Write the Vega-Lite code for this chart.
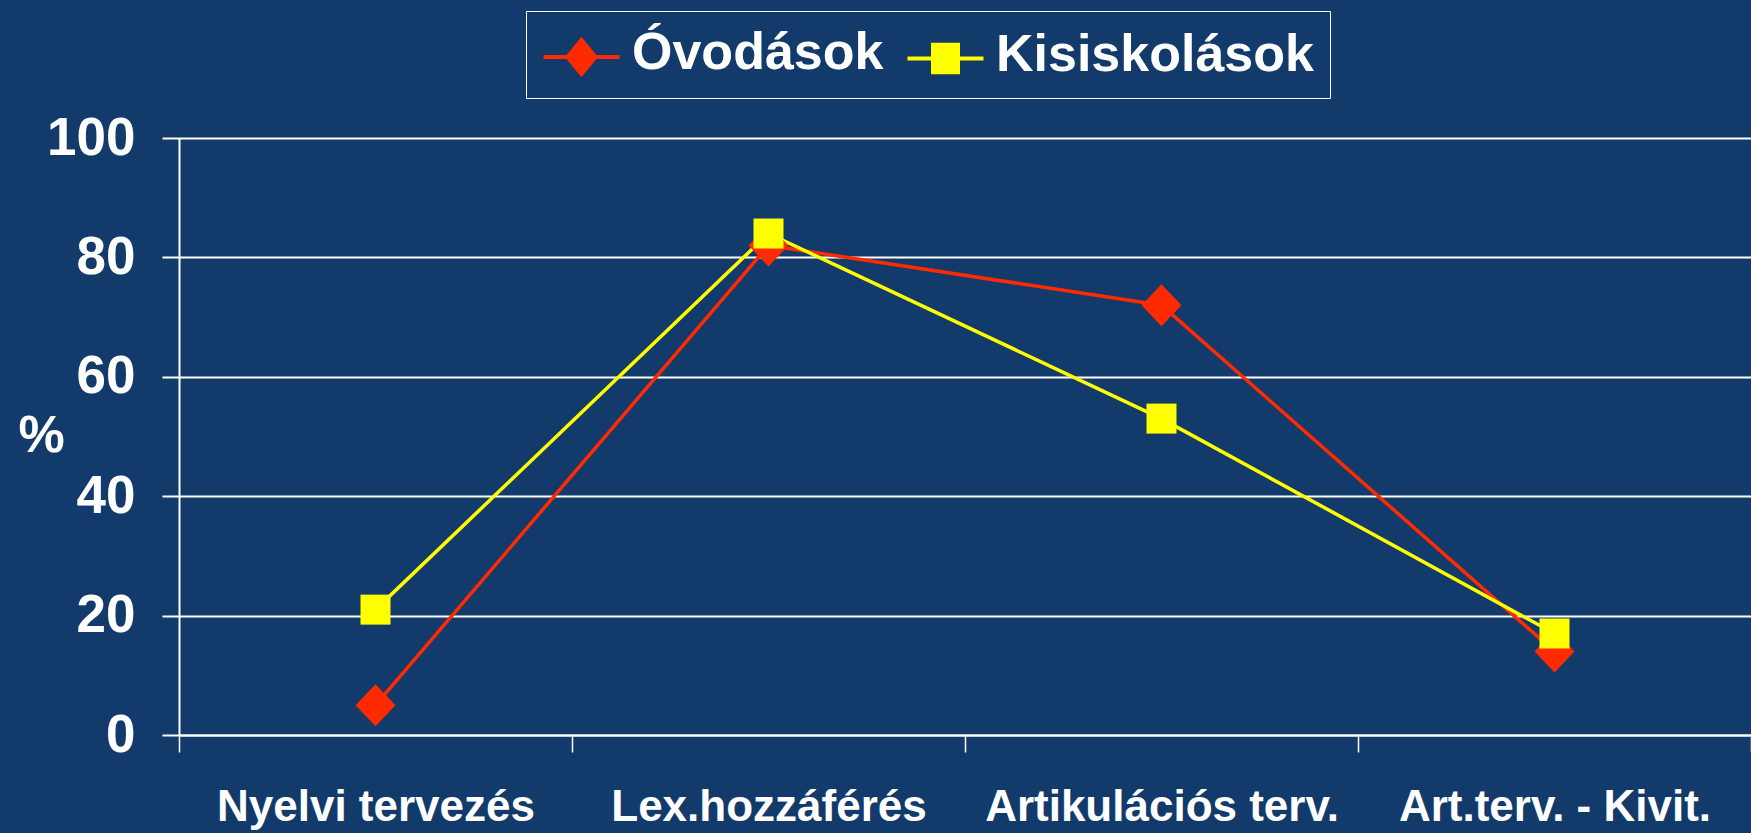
{
  "$schema": "https://vega.github.io/schema/vega-lite/v6.json",
  "width": 1572,
  "height": 597,
  "autosize": {"type": "none"},
  "padding": {"left": 179, "top": 138, "right": 0, "bottom": 98},
  "background": "#123A6A",
  "config": {"view": {"stroke": null}},
  "data": {
    "values": [
      {"stage": "Nyelvi tervezés", "group": "Óvodások", "value": 5},
      {"stage": "Lex.hozzáférés", "group": "Óvodások", "value": 82},
      {"stage": "Artikulációs terv.", "group": "Óvodások", "value": 72},
      {"stage": "Art.terv. - Kivit.", "group": "Óvodások", "value": 14},
      {"stage": "Nyelvi tervezés", "group": "Kisiskolások", "value": 21},
      {"stage": "Lex.hozzáférés", "group": "Kisiskolások", "value": 84},
      {"stage": "Artikulációs terv.", "group": "Kisiskolások", "value": 53},
      {"stage": "Art.terv. - Kivit.", "group": "Kisiskolások", "value": 17}
    ]
  },
  "encoding": {
    "x": {
      "field": "stage",
      "type": "nominal",
      "sort": ["Nyelvi tervezés", "Lex.hozzáférés", "Artikulációs terv.", "Art.terv. - Kivit."],
      "scale": {"paddingInner": 0, "paddingOuter": 0},
      "axis": {
        "title": null,
        "labelAngle": 0,
        "tickBand": "extent",
        "tickColor": "white",
        "tickWidth": 1.5,
        "tickSize": 17,
        "domainColor": "white",
        "domainWidth": 2,
        "grid": false,
        "labelFont": "Liberation Sans",
        "labelFontSize": 44,
        "labelFontWeight": "bold",
        "labelColor": "white",
        "labelPadding": 33,
        "labelLimit": 600
      }
    },
    "y": {
      "field": "value",
      "type": "quantitative",
      "scale": {"domain": [0, 100], "nice": false},
      "axis": {
        "values": [0, 20, 40, 60, 80, 100],
        "grid": true,
        "gridColor": "white",
        "gridWidth": 2,
        "gridOpacity": 1,
        "domainColor": "white",
        "domainWidth": 2,
        "tickColor": "white",
        "tickWidth": 2,
        "tickSize": 17,
        "labelPadding": 27,
        "labelFont": "Liberation Sans",
        "labelFontSize": 53,
        "labelFontWeight": "bold",
        "labelColor": "white",
        "title": "%",
        "titleAngle": 0,
        "titleX": -138,
        "titleY": 297,
        "titleAlign": "center",
        "titleBaseline": "middle",
        "titleFont": "Liberation Sans",
        "titleFontSize": 52,
        "titleFontWeight": "bold",
        "titleColor": "white"
      }
    },
    "color": {
      "field": "group",
      "type": "nominal",
      "scale": {"domain": ["Óvodások", "Kisiskolások"], "range": ["#FF2A00", "#FFFF00"]},
      "legend": {
        "title": null,
        "orient": "none",
        "direction": "horizontal",
        "legendX": 347,
        "legendY": -127,
        "padding": 16,
        "strokeColor": "white",
        "columnPadding": 15,
        "symbolSize": 100,
        "symbolStrokeWidth": 4,
        "symbolOpacity": 1,
        "symbolType": {"expr": "datum.value === 'Óvodások' ? 'M-4.9,0.8H10.3M2.7,-2.6L5.5,0.8L2.7,4.2L-0.1,0.8Z' : 'M-4.9,0.8H10.3M0.2,-1.96H5.2V3.56H0.2Z'"},
        "symbolStrokeColor": {"expr": "scale('color', datum.value)"},
        "symbolFillColor": {"expr": "scale('color', datum.value)"},
        "labelOffset": 38,
        "labelFont": "Liberation Sans",
        "labelFontSize": 52,
        "labelFontWeight": "bold",
        "labelColor": "white",
        "labelLimit": 600
      }
    }
  },
  "layer": [
    {"mark": {"type": "line", "strokeWidth": 3.5}},
    {
      "transform": [{"filter": "datum.group === 'Óvodások'"}],
      "mark": {"type": "point", "filled": true, "opacity": 1, "size": 900, "shape": "M0,-1.4L1.33,0L0,1.4L-1.33,0Z"}
    },
    {
      "transform": [{"filter": "datum.group === 'Kisiskolások'"}],
      "mark": {"type": "point", "filled": true, "opacity": 1, "size": 900, "shape": "square"}
    }
  ]
}
